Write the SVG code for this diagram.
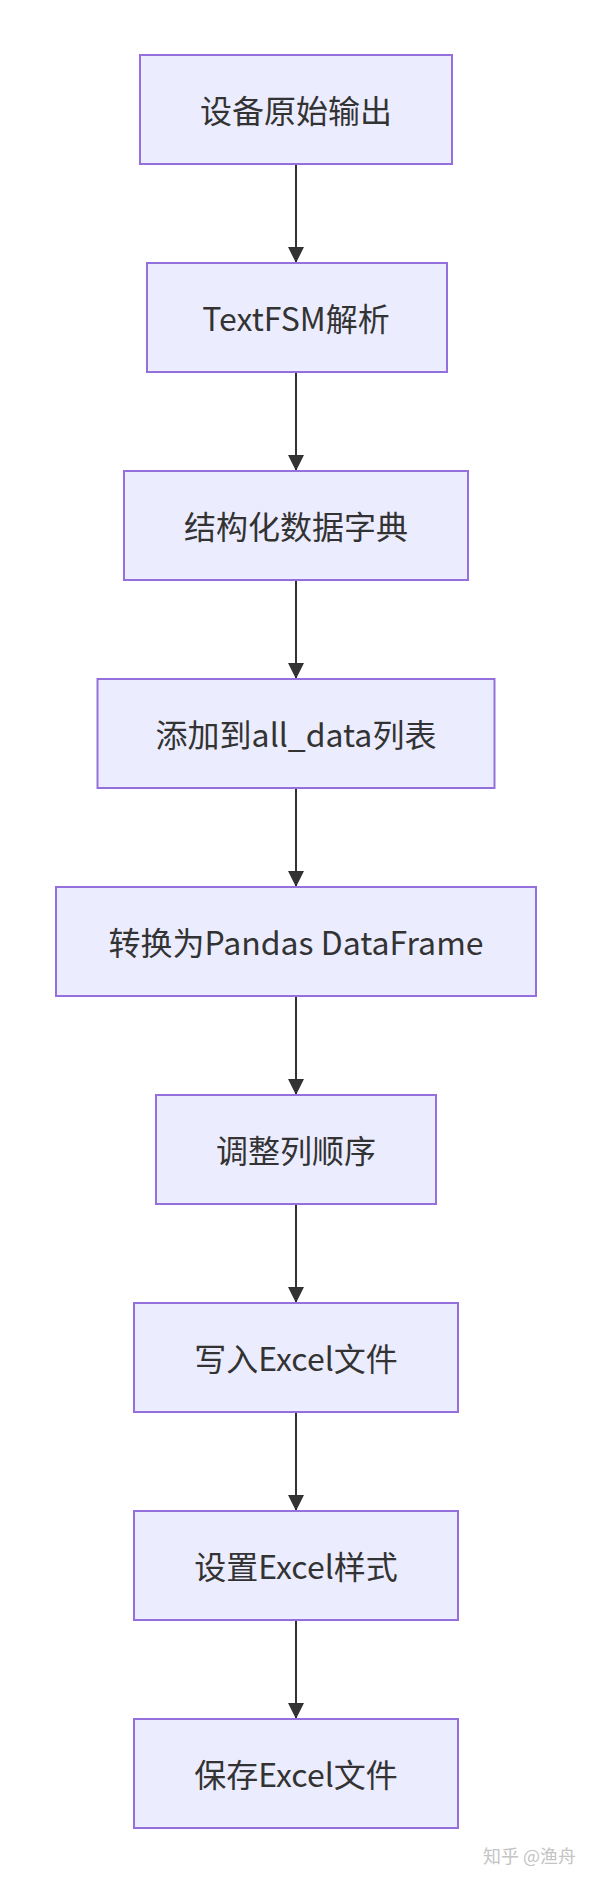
<svg xmlns="http://www.w3.org/2000/svg" width="591" height="1884" viewBox="0 0 591 1884">
<style>
.node rect{fill:#ECECFF;stroke:#9370DB;stroke-width:2}
.node text{font-family:"Noto Sans CJK SC","Noto Sans",sans-serif;font-size:32px;fill:#333333;text-anchor:middle;dominant-baseline:central}
.edge{stroke:#333333;stroke-width:2;fill:none}
.wm{font-family:"Noto Sans CJK SC",sans-serif;font-size:18px;fill:#c4c4c4}
</style>
<defs>
<marker id="arrow" viewBox="0 0 16 16" refX="15" refY="8" markerWidth="16" markerHeight="16" markerUnits="userSpaceOnUse" orient="auto">
<path d="M0,0 L16,8 L0,16 Z" fill="#333333"/>
</marker>
</defs>
<rect width="591" height="1884" fill="#ffffff"/>
<g id="connectors">
<path class="edge" d="M296,164 L296,262" marker-end="url(#arrow)"/>
<path class="edge" d="M296,372 L296,470" marker-end="url(#arrow)"/>
<path class="edge" d="M296,580 L296,678" marker-end="url(#arrow)"/>
<path class="edge" d="M296,788 L296,886" marker-end="url(#arrow)"/>
<path class="edge" d="M296,996 L296,1094" marker-end="url(#arrow)"/>
<path class="edge" d="M296,1204 L296,1302" marker-end="url(#arrow)"/>
<path class="edge" d="M296,1412 L296,1510" marker-end="url(#arrow)"/>
<path class="edge" d="M296,1620 L296,1718" marker-end="url(#arrow)"/>
</g>
<g id="n1" class="node"><rect x="140" y="55" width="312" height="109"/><text x="296" y="109">设备原始输出</text></g>
<g id="n2" class="node"><rect x="147" y="263" width="300" height="109"/><text x="296" y="317">TextFSM解析</text></g>
<g id="n3" class="node"><rect x="124" y="471" width="344" height="109"/><text x="296" y="525">结构化数据字典</text></g>
<g id="n4" class="node"><rect x="97.5" y="679" width="397" height="109"/><text x="296" y="733">添加到all_data列表</text></g>
<g id="n5" class="node"><rect x="56" y="887" width="480" height="109"/><text x="296" y="941">转换为Pandas DataFrame</text></g>
<g id="n6" class="node"><rect x="156" y="1095" width="280" height="109"/><text x="296" y="1149">调整列顺序</text></g>
<g id="n7" class="node"><rect x="134" y="1303" width="324" height="109"/><text x="296" y="1357">写入Excel文件</text></g>
<g id="n8" class="node"><rect x="134" y="1511" width="324" height="109"/><text x="296" y="1565">设置Excel样式</text></g>
<g id="n9" class="node"><rect x="134" y="1719" width="324" height="109"/><text x="296" y="1773">保存Excel文件</text></g>
<text class="wm" x="483" y="1863" xml:space="preserve">知乎 @渔舟</text>
</svg>
